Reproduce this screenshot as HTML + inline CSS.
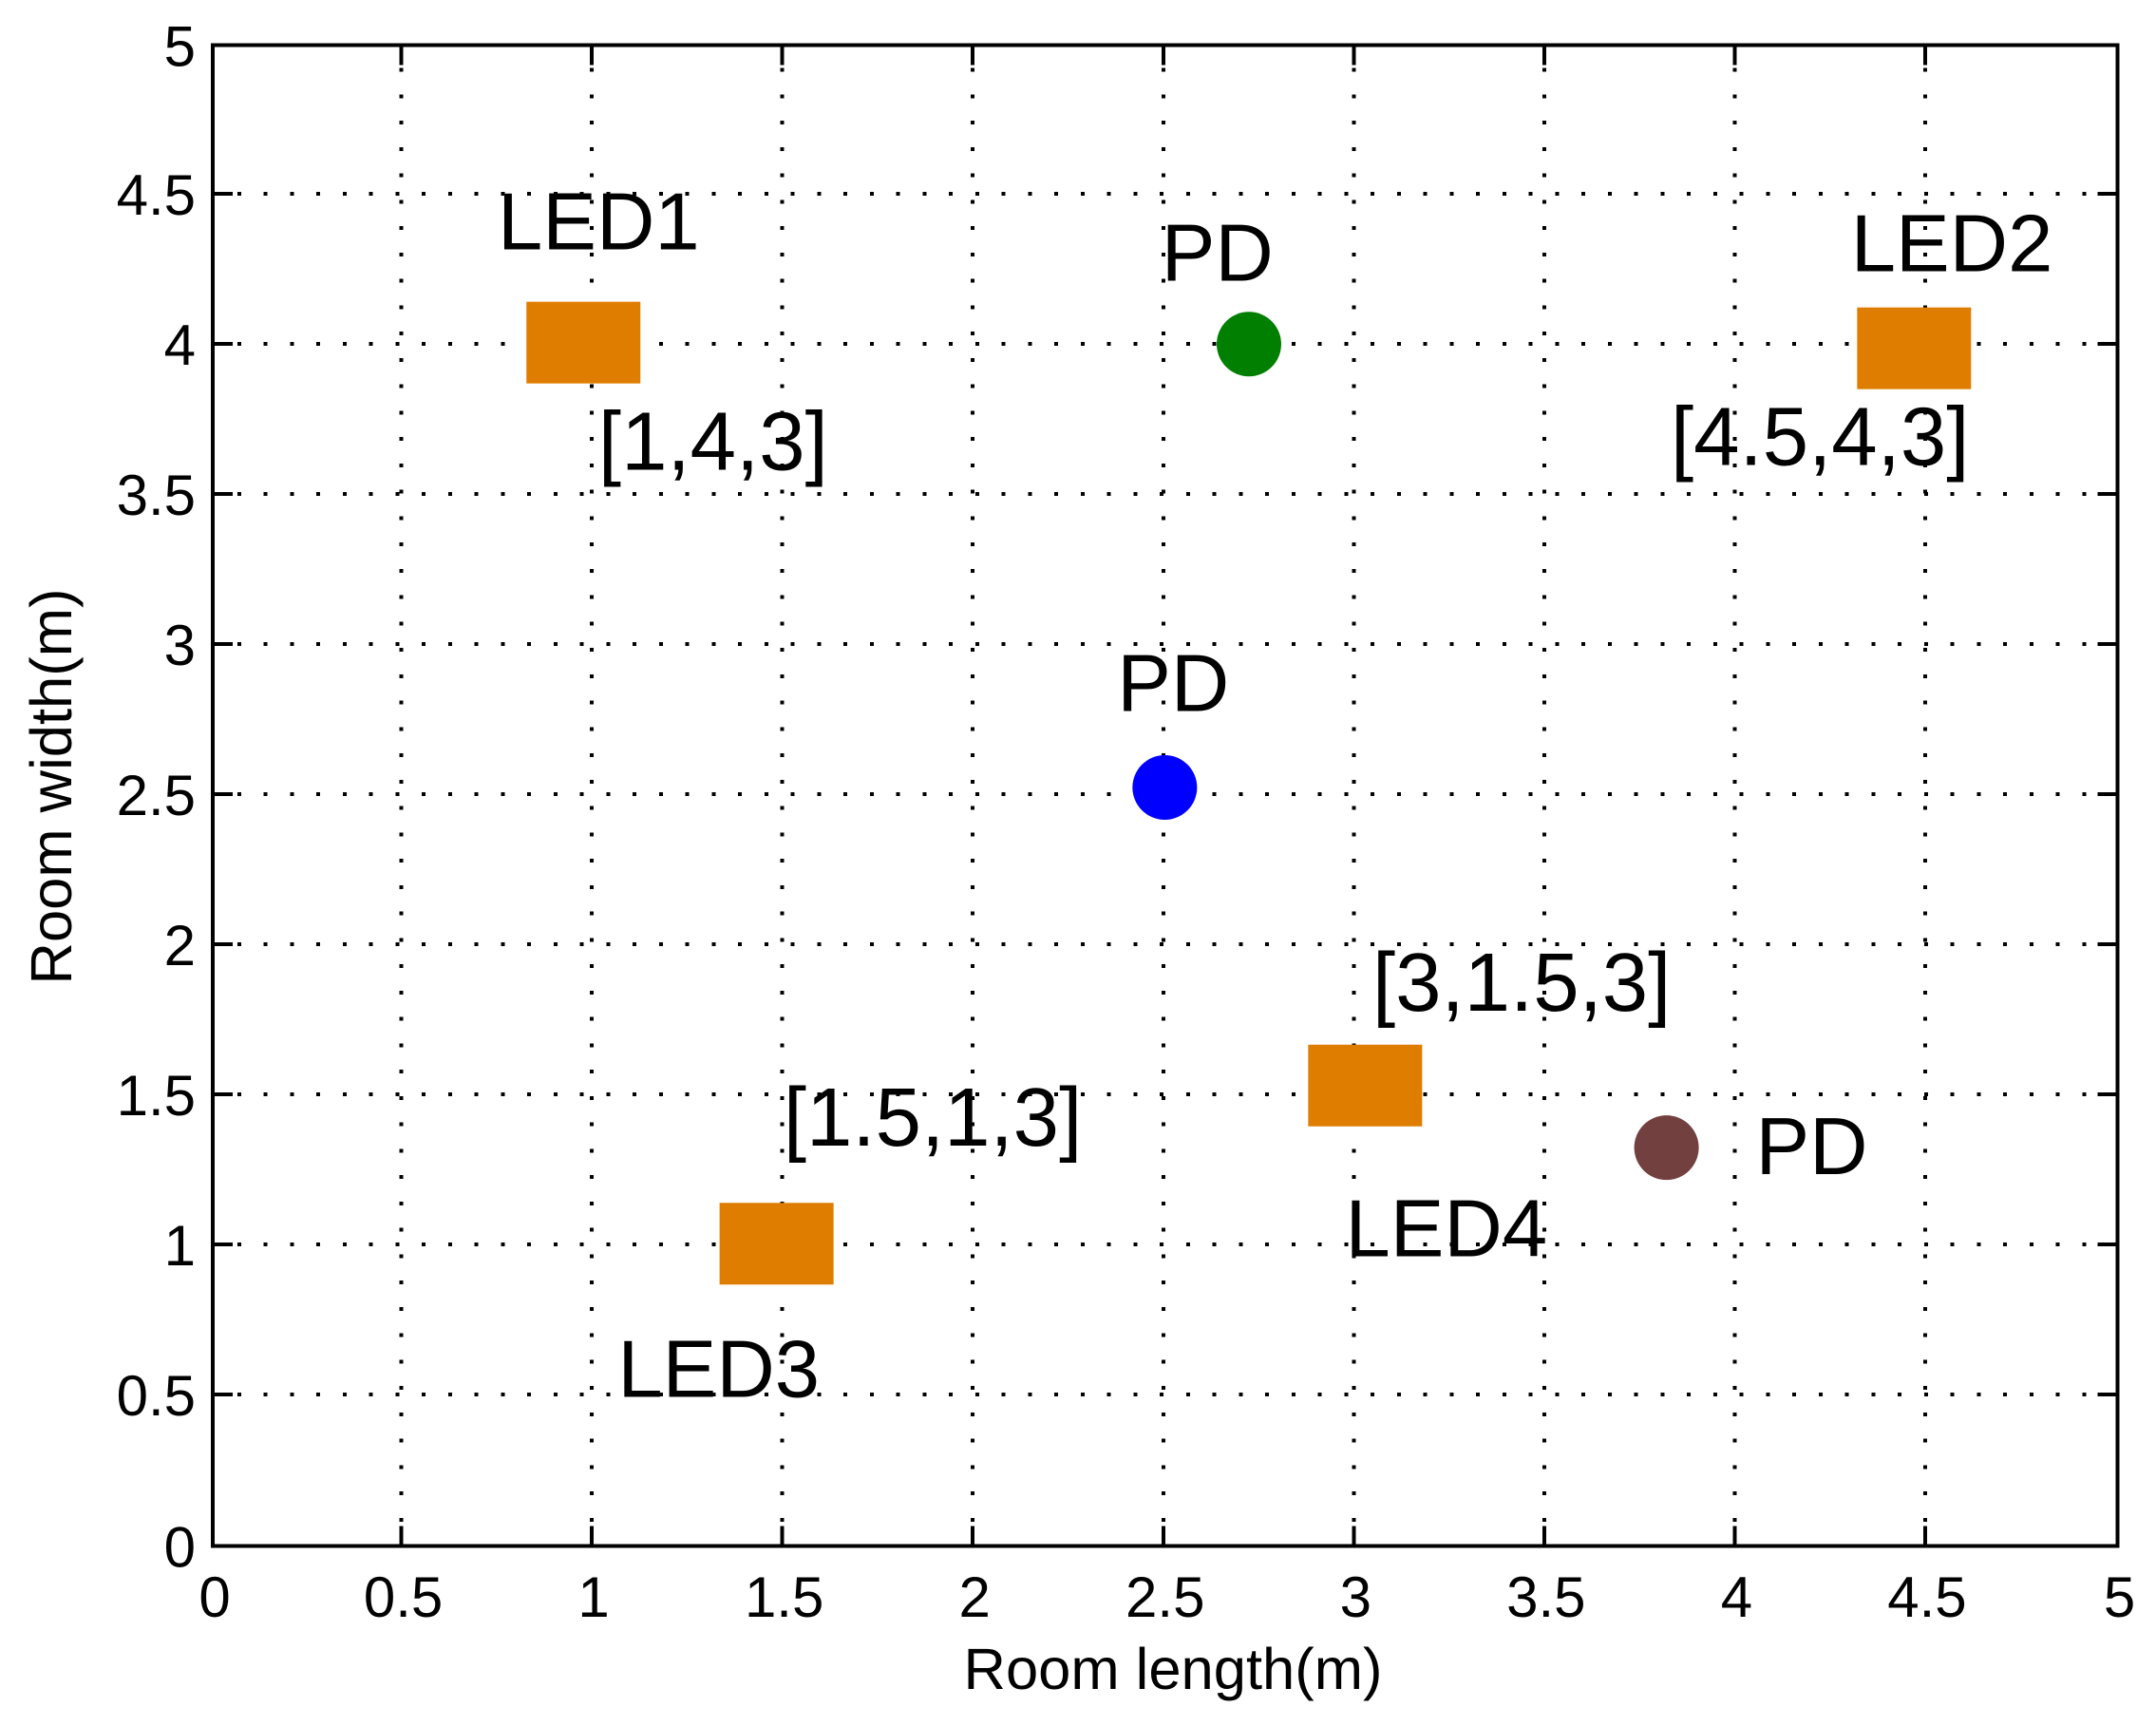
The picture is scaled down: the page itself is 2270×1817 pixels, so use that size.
<!DOCTYPE html>
<html lang="en">
<head>
<meta charset="utf-8">
<title>Room layout of LEDs and photodiodes</title>
<style>
html,body{margin:0;padding:0;background:#fff;}
svg{display:block;}
text{font-family:"Liberation Sans",Arial,sans-serif;fill:#000;}
</style>
</head>
<body>
<svg id="chart" xmlns="http://www.w3.org/2000/svg" width="2270" height="1817" viewBox="0 0 2270 1817">
  <rect x="0" y="0" width="2270" height="1817" fill="#ffffff"/>
  <g id="grid" shape-rendering="crispEdges"></g>
  <g id="ticks" shape-rendering="crispEdges"></g>
  <g id="tick-labels"></g>
  <g id="marks"></g>
  <g id="annotations"></g>
  <rect x="224" y="47.5" width="2005.5" height="1580" fill="none" stroke="#000" stroke-width="4"/>
  <text x="1235" y="1778" font-size="61.5" text-anchor="middle">Room length(m)</text>
  <text x="75" y="828" font-size="61.5" text-anchor="middle" transform="rotate(-90 75 828)">Room width(m)</text>
</svg>
<script>
const xTicks = [0, 0.5, 1, 1.5, 2, 2.5, 3, 3.5, 4, 4.5, 5];
const yTicks = [0, 0.5, 1, 1.5, 2, 2.5, 3, 3.5, 4, 4.5, 5];
const xTickLabels = ['0', '0.5', '1', '1.5', '2', '2.5', '3', '3.5', '4', '4.5', '5'];
const yTickLabels = ['0', '0.5', '1', '1.5', '2', '2.5', '3', '3.5', '4', '4.5', '5'];

const ledNames = ['led1', 'led2', 'led3', 'led4'];
const ledX = [0.973, 4.466, 1.48, 3.025];
const ledY = [4.009, 3.99, 1.007, 1.534];

const pdNames = ['pd-green', 'pd-blue', 'pd-brown'];
const pdX = [2.72, 2.499, 3.816];
const pdY = [4.004, 2.527, 1.327];
const pdColors = ['#007f00', '#0000ff', '#734040'];

const annotationText = ['LED1', 'LED2', 'LED3', 'LED4', 'PD', 'PD', 'PD', '[1,4,3]', '[4.5,4,3]', '[3,1.5,3]', '[1.5,1,3]'];
const annotationX = [0.748, 4.3, 1.063, 2.973, 2.49, 2.374, 4.05, 1.012, 3.827, 3.044, 1.498];
const annotationY = [4.32, 4.247, 0.497, 0.965, 4.215, 2.782, 1.239, 3.586, 3.602, 1.784, 1.334];

const plotLeft = 224, plotRight = 2229.5, plotTop = 47.5, plotBottom = 1627.5;
const xMin = 0, xMax = 5, yMin = 0, yMax = 5;
function sx(v) { return plotLeft + (v - xMin) / (xMax - xMin) * (plotRight - plotLeft); }
function sy(v) { return plotBottom - (v - yMin) / (yMax - yMin) * (plotBottom - plotTop); }

const NS = 'http://www.w3.org/2000/svg';
function make(tag, parent, attrs) {
  const el = document.createElementNS(NS, tag);
  for (const k in attrs) el.setAttribute(k, attrs[k]);
  parent.appendChild(el);
  return el;
}
const grid = document.getElementById('grid');
const ticks = document.getElementById('ticks');
const tickLabels = document.getElementById('tick-labels');
const marks = document.getElementById('marks');
const annotations = document.getElementById('annotations');
const tickLen = 21;
const gridStyle = { stroke: '#000', 'stroke-width': 4, 'stroke-dasharray': '4 23.75', 'stroke-dashoffset': 2 };
const tickStyle = { stroke: '#000', 'stroke-width': 4 };
const innerShiftX = -2, innerShiftY = -1.4;

xTicks.forEach(function (t, i) {
  const inner = t > xMin && t < xMax;
  const x = sx(t) + (inner ? innerShiftX : 0);
  if (inner) {
    const g = make('line', grid, Object.assign({ x1: x, x2: x, y1: plotBottom, y2: plotTop }, gridStyle));
    
    
    const a = make('line', ticks, Object.assign({ x1: x, x2: x, y1: plotBottom, y2: plotBottom - tickLen }, tickStyle));
    
    
    const b = make('line', ticks, Object.assign({ x1: x, x2: x, y1: plotTop, y2: plotTop + tickLen }, tickStyle));
    
    
  }
  const lab = make('text', tickLabels, { x: x + 2, y: 1702, 'font-size': 60, 'text-anchor': 'middle' });
  lab.textContent = xTickLabels[i];
  
  
});

yTicks.forEach(function (t, i) {
  const inner = t > yMin && t < yMax;
  const y = sy(t) + (inner ? innerShiftY : 0);
  if (inner) {
    const g = make('line', grid, Object.assign({ x1: plotLeft, x2: plotRight, y1: y, y2: y }, gridStyle));
    
    
    const a = make('line', ticks, Object.assign({ x1: plotLeft, x2: plotLeft + tickLen, y1: y, y2: y }, tickStyle));
    
    
    const b = make('line', ticks, Object.assign({ x1: plotRight, x2: plotRight - tickLen, y1: y, y2: y }, tickStyle));
    
    
  }
  const lab = make('text', tickLabels, { x: 206, y: y + 22, 'font-size': 60, 'text-anchor': 'end' });
  lab.textContent = yTickLabels[i];
  
  
});

const ledW = 120, ledH = 86;
ledNames.forEach(function (name, i) {
  const r = make('rect', marks, { x: sx(ledX[i]) - ledW / 2, y: sy(ledY[i]) - ledH / 2, width: ledW, height: ledH, fill: '#df7d00' });
  
  
});

const pdR = 34;
pdNames.forEach(function (name, i) {
  const c = make('circle', marks, { cx: sx(pdX[i]), cy: sy(pdY[i]), r: pdR, fill: pdColors[i] });
  
  
});

annotationText.forEach(function (label, i) {
  const size = label.charAt(0) === '[' ? 87 : 85;
  const t = make('text', annotations, { x: sx(annotationX[i]), y: sy(annotationY[i]), 'font-size': size });
  t.textContent = label;
  
  
});
</script>
</body>
</html>
